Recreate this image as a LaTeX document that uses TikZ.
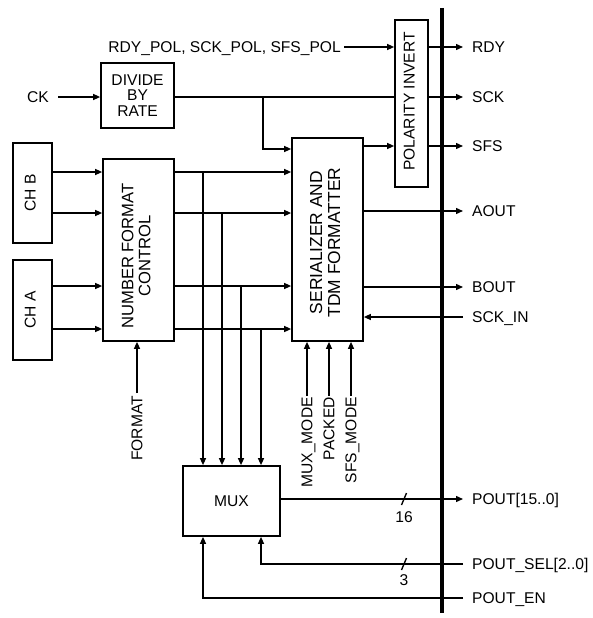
\documentclass[tikz,border=0pt]{standalone}
\usepackage{fontspec}
\setmainfont{Liberation Sans}
\usetikzlibrary{arrows.meta}
\newcommand\vtext[2][0pt]{\rotatebox{90}{\begin{tabular}{@{}c@{}}#2\end{tabular}\hspace*{#1}}}
\begin{document}
\begin{tikzpicture}[x=1pt,y=-1pt,
  every node/.style={font=\fontsize{15.6}{15.8}\selectfont},
  blk/.style={draw, line width=1.7pt, inner sep=0pt, align=center},
  wire/.style={line width=1.35pt},
  arr/.style={wire, -{Triangle[length=7pt,width=6pt]}},
  lbl/.style={inner sep=0pt, text depth=0pt},
  vlbl/.style={lbl, rotate=90, anchor=east},
  busline/.style={line width=3.4pt},
]
\useasboundingbox (0,0) rectangle (592,618);

% blocks
\node[blk, minimum width=73pt, minimum height=65pt] (div) at (137.5,95.5) {DIVIDE\\BY\\RATE};
\node[blk, minimum width=33pt, minimum height=167pt] (pol) at (411.5,103.5) {\vtext[-4pt]{POLARITY INVERT}};
\node[blk, minimum width=71pt, minimum height=203pt, font=\fontsize{17.4}{18}\selectfont] (ser) at (327.5,239.5) {\vtext[6pt]{SERIALIZER AND\\TDM FORMATTER}};
\node[blk, minimum width=71pt, minimum height=182pt, font=\fontsize{16.6}{17}\selectfont] (nfc) at (138.5,250) {\vtext[12pt]{NUMBER FORMAT\\CONTROL}};
\node[blk, minimum width=39pt, minimum height=100pt] (chb) at (32.5,193) {\vtext{CH B}};
\node[blk, minimum width=39pt, minimum height=100pt] (cha) at (32.5,310) {\vtext{CH A}};
\node[blk, minimum width=97pt, minimum height=70pt] (mux) at (231.5,501) {MUX};

% bus
\coordinate (busT) at (442,8);
\coordinate (busB) at (442,613);
\draw[busline] (busT) -- (busB);

% input labels
\node[lbl, anchor=east] (ck) at (49,97) {CK};
\node[lbl, anchor=east] (polin) at (341,47) {RDY\_POL, SCK\_POL, SFS\_POL};
\node[vlbl] (fmt) at (137,396) {FORMAT};
\node[vlbl] (mm) at (307,397) {MUX\_MODE};
\node[vlbl] (pk) at (329,397) {PACKED};
\node[vlbl] (sm) at (351,397) {SFS\_MODE};

% output labels
\node[lbl, anchor=west] (rdy) at (472,47) {RDY};
\node[lbl, anchor=west] (sck) at (472,97) {SCK};
\node[lbl, anchor=west] (sfs) at (472,146) {SFS};
\node[lbl, anchor=west] (aout) at (472,211) {AOUT};
\node[lbl, anchor=west] (bout) at (472,287) {BOUT};
\node[lbl, anchor=west] (sckin) at (472,317) {SCK\_IN};
\node[lbl, anchor=west] (pout) at (472,499) {POUT[15..0]};
\node[lbl, anchor=west] (psel) at (472,564) {POUT\_SEL[2..0]};
\node[lbl, anchor=west] (pen) at (472,598) {POUT\_EN};

% CK and clock path
\draw[arr] ([xshift=9pt]ck.east) -- (div.west |- ck.east);
\draw[arr] ([xshift=3pt]polin.east) -- (pol.west |- polin.east);
\draw[wire] (div.east |- sck.west) -- (pol.west |- sck.west);
\coordinate (br) at (263,97);
\coordinate (brk) at (263,149);
\draw[arr] (br) -- (brk) -- (ser.west |- brk);

% polarity outputs
\draw[arr] (pol.east |- rdy.west) -- ([xshift=-9pt]rdy.west);
\draw[arr] (pol.east |- sck.west) -- ([xshift=-9pt]sck.west);
\draw[arr] (ser.east |- sfs.west) -- (pol.west |- sfs.west);
\draw[arr] (pol.east |- sfs.west) -- ([xshift=-9pt]sfs.west);

% serializer outputs
\draw[arr] (ser.east |- aout.west) -- ([xshift=-9pt]aout.west);
\draw[arr] (ser.east |- bout.west) -- ([xshift=-9pt]bout.west);
\draw[arr] ([xshift=-9pt]sckin.west) -- (ser.east |- sckin.west);

% data paths
\coordinate (r1) at (203,172);
\coordinate (r2) at (222,213);
\coordinate (r3) at (241,286);
\coordinate (r4) at (261,329);
\draw[arr] (chb.east |- r1) -- (nfc.west |- r1);
\draw[arr] (chb.east |- r2) -- (nfc.west |- r2);
\draw[arr] (cha.east |- r3) -- (nfc.west |- r3);
\draw[arr] (cha.east |- r4) -- (nfc.west |- r4);
\foreach \r in {r1,r2,r3,r4}{
  \draw[arr] (nfc.east |- \r) -- (ser.west |- \r);
  \draw[arr] (\r) -- (\r |- mux.north);
}

% control inputs
\draw[arr] ([yshift=3pt]fmt.east) -- (fmt.east |- nfc.south);
\draw[arr] ([yshift=1pt]mm.east) -- (mm.east |- ser.south);
\draw[arr] ([yshift=1pt]pk.east) -- (pk.east |- ser.south);
\draw[arr] ([yshift=1pt]sm.east) -- (sm.east |- ser.south);

% parallel outputs
\draw[arr] (mux.east |- pout.west) -- ([xshift=-9pt]pout.west);
\coordinate (s16) at (404,499);
\draw[wire] ([shift={(-2.5pt,-6pt)}]s16) -- ([shift={(2.5pt,6pt)}]s16);
\node[lbl] (n16) at (404,517) {16};
\draw[arr] ([xshift=-9pt]psel.west) -| (r4 |- mux.south);
\coordinate (s3) at (404,564);
\draw[wire] ([shift={(-2.5pt,-6pt)}]s3) -- ([shift={(2.5pt,6pt)}]s3);
\node[lbl] (n3) at (404,580) {3};
\draw[arr] ([xshift=-9pt]pen.west) -| (r1 |- mux.south);
\end{tikzpicture}
\end{document}
